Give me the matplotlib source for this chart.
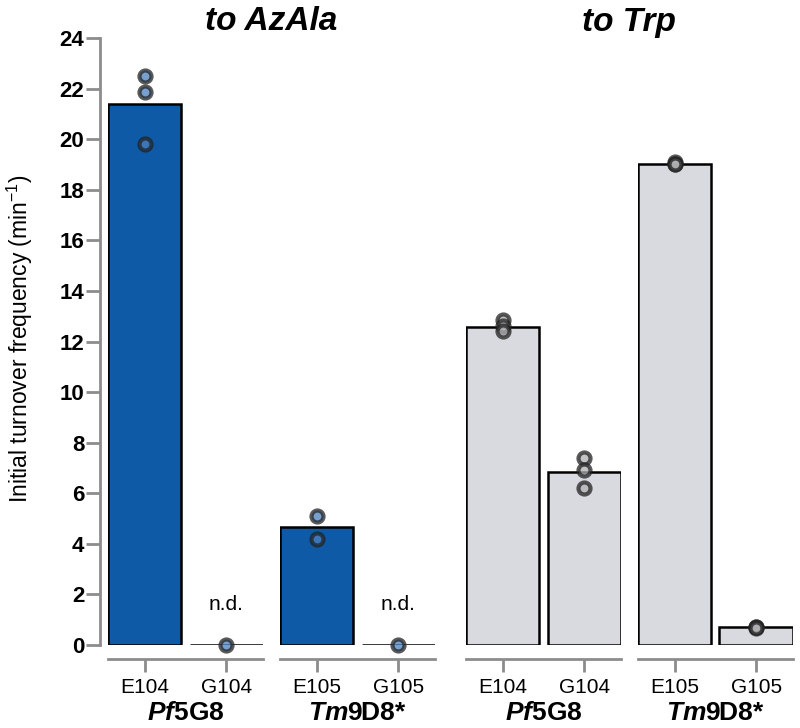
import numpy as np
import matplotlib
matplotlib.use("Agg")
import matplotlib.pyplot as plt

plt.rcParams['font.family'] = ['Liberation Sans', 'DejaVu Sans']
plt.rcParams['mathtext.fontset'] = 'custom'
plt.rcParams['mathtext.rm'] = 'Liberation Sans'
plt.rcParams['mathtext.it'] = 'Liberation Sans:style=italic:weight=bold'

# data
groups = [r'$\mathit{Pf}$5G8', r'$\mathit{Tm}$9D8*']
variants = [['E104', 'G104'], ['E105', 'G105']]
panels = ['to AzAla', 'to Trp']

azala_means = [21.4, 0.0, 4.67, 0.0]
azala_pts = [[22.5, 21.85, 19.8], [0.0], [5.1, 4.2], [0.0]]
azala_nd = [False, True, False, True]

trp_means = [12.57, 6.85, 19.02, 0.71]
trp_pts = [[12.85, 12.6, 12.4], [7.4, 6.9, 6.2], [19.1, 19.0, 19.0], [0.72, 0.7, 0.68]]
trp_nd = [False, False, False, False]

bar_colors = ['#0e5aa7', '#d9dae0']
pt_colors = ['#4a80c0', '#b0b0b4']
spine_grey = '#8c8c8c'

W, H = 800, 728
fig = plt.figure(figsize=(W / 100, H / 100), dpi=100)

# axes left edges (pixels) for each group of two bars
lefts = [[108, 280], [466, 638]]
y0_px, y24_px = 645, 38
unit = 81.5  # pixels per bar slot

def px_rect(left, right):
    return [left / W, 1 - y0_px / H, (right - left) / W, (y0_px - y24_px) / H]

all_means = [azala_means, trp_means]
all_pts = [azala_pts, trp_pts]
all_nd = [azala_nd, trp_nd]

for p in range(2):
    for g in range(2):
        left = lefts[p][g]
        ax = fig.add_axes(px_rect(left, left + 1.9 * unit))
        idx = [2 * g, 2 * g + 1]
        xs = np.arange(2)
        means = [all_means[p][i] for i in idx]
        ax.bar(xs, means, width=0.9, color=bar_colors[p], edgecolor='black',
               linewidth=1.8, zorder=2)
        for k, i in enumerate(idx):
            pts = all_pts[p][i]
            ax.scatter([xs[k]] * len(pts), pts, s=75, facecolor=pt_colors[p],
                       edgecolor='#222222', linewidth=3, alpha=0.75,
                       zorder=3, clip_on=False)
            if all_nd[p][i]:
                ax.text(xs[k], 1.6, 'n.d.', ha='center', va='center', fontsize=15)
        ax.set_xlim(-0.45, 1.45)
        ax.set_ylim(0, 24)
        ax.set_xticks(xs)
        ax.set_xticklabels(variants[g])
        ax.set_xlabel(groups[g], fontsize=19, fontweight='bold', labelpad=3)
        for s in ['top', 'right']:
            ax.spines[s].set_visible(False)
        ax.spines['bottom'].set_position(('outward', 10))
        ax.spines['bottom'].set_color(spine_grey)
        ax.spines['bottom'].set_linewidth(2)
        ax.tick_params(axis='x', color=spine_grey, width=2, length=9, pad=5,
                       labelsize=15)
        if p == 0 and g == 0:
            ax.spines['left'].set_position(('outward', 6))
            ax.spines['left'].set_color(spine_grey)
            ax.spines['left'].set_linewidth(2)
            ax.set_yticks(np.arange(0, 25, 2))
            ax.tick_params(axis='y', color=spine_grey, width=2, length=10, pad=1,
                           labelsize=16)
            for lab in ax.get_yticklabels():
                lab.set_fontweight('bold')
        else:
            ax.spines['left'].set_visible(False)
            ax.set_yticks([])
        ax.patch.set_visible(False)

fig.text(20 / W, 1 - 339 / H, 'Initial turnover frequency (min$^{-1}$)',
         rotation=90, ha='center', va='center', fontsize=16.5)

# panel titles
for p in range(2):
    cx = (lefts[p][0] + lefts[p][1] + 1.9 * unit) / 2
    fig.text(cx / W, 1 - 22 / H, panels[p], ha='center', va='center',
             fontsize=24, fontweight='bold', fontstyle='italic')

fig.savefig('out.png', dpi=100)
